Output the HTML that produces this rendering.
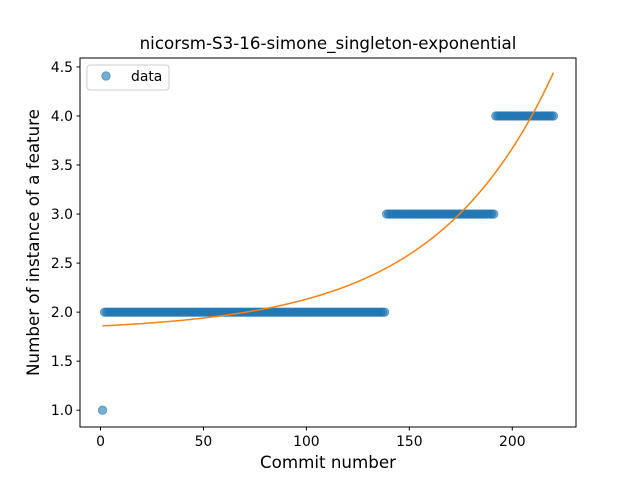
<!DOCTYPE html>
<html><head><meta charset="utf-8"><style>
body{margin:0;background:#fff;}
svg text{font-family:"DejaVu Sans","Liberation Sans",sans-serif;fill:#000;}
</style></head><body>
<svg id="c" width="640" height="480" xmlns="http://www.w3.org/2000/svg">
<rect width="640" height="480" fill="#fff"/>
<text x="328" y="49" font-size="16.7" text-anchor="middle">nicorsm-S3-16-simone_singleton-exponential</text>
<g id="plot"></g>
<rect x="80" y="58" width="496" height="369" fill="none" stroke="#000" stroke-width="1"/>
<g id="xt"></g><g id="yt"></g>
<text x="328" y="468" font-size="16.7" text-anchor="middle">Commit number</text>
<text transform="translate(39,242.5) rotate(-90)" font-size="16.7" text-anchor="middle">Number of instance of a feature</text>
<g>
<rect x="87" y="65" width="82" height="25" rx="3" fill="#fff" fill-opacity="0.8" stroke="#ccc"/>
<circle cx="106" cy="76" r="4.2" fill="#1f77b4" fill-opacity="0.6" stroke="#1f77b4" stroke-opacity="0.6"/>
<text x="131" y="81" font-size="13.9">data</text>
</g>
</svg>
<script>
const segStarts=[1,2,139,192];
const segEnds=[1,138,191,220];
const segValues=[1,2,3,4];
const fitA=0.059, fitB=0.01728, fitC=1.8;
const xTicks=[0,50,100,150,200];
const yTicks=[1.0,1.5,2.0,2.5,3.0,3.5,4.0,4.5];
const NS="http://www.w3.org/2000/svg";
const xmin=-9.95,xmax=230.95,ymin=0.829,ymax=4.591;
const X=v=>80+(v-xmin)/(xmax-xmin)*496;
const Y=v=>427-(v-ymin)/(ymax-ymin)*369;
const plot=document.getElementById('plot');
function mk(t,a,p){const e=document.createElementNS(NS,t);for(const k in a)e.setAttribute(k,a[k]);p.appendChild(e);return e;}
for(let s=0;s<segStarts.length;s++){
 for(let x=segStarts[s];x<=segEnds[s];x++){
  const c=mk('circle',{cx:X(x),cy:Y(segValues[s]),r:4.2,fill:'#1f77b4','fill-opacity':0.6,stroke:'#1f77b4','stroke-opacity':0.6,'stroke-width':1},plot);
  
  
 }
}
let d='';
for(let x=1;x<=220;x++){const y=fitA*Math.exp(fitB*x)+fitC;d+=(x==1?'M':'L')+X(x).toFixed(2)+','+Y(y).toFixed(2);}
const fl=mk('path',{d:d,fill:'none',stroke:'#ff7f0e','stroke-width':1.5},plot);


const xt=document.getElementById('xt'),yt=document.getElementById('yt');
xTicks.forEach(v=>{
 const l=mk('line',{x1:X(v),x2:X(v),y1:427,y2:430.5,stroke:'#000'},xt);
 
 
 const t=mk('text',{x:X(v),y:446,'font-size':13.9,'text-anchor':'middle'},xt);t.textContent=v;
 
 
});
yTicks.forEach(v=>{
 const l=mk('line',{x1:76.5,x2:80,y1:Y(v),y2:Y(v),stroke:'#000'},yt);
 
 
 const t=mk('text',{x:73,y:Y(v)+5,'font-size':13.9,'text-anchor':'end'},yt);t.textContent=v.toFixed(1);
 
 
});
</script>
</body></html>
